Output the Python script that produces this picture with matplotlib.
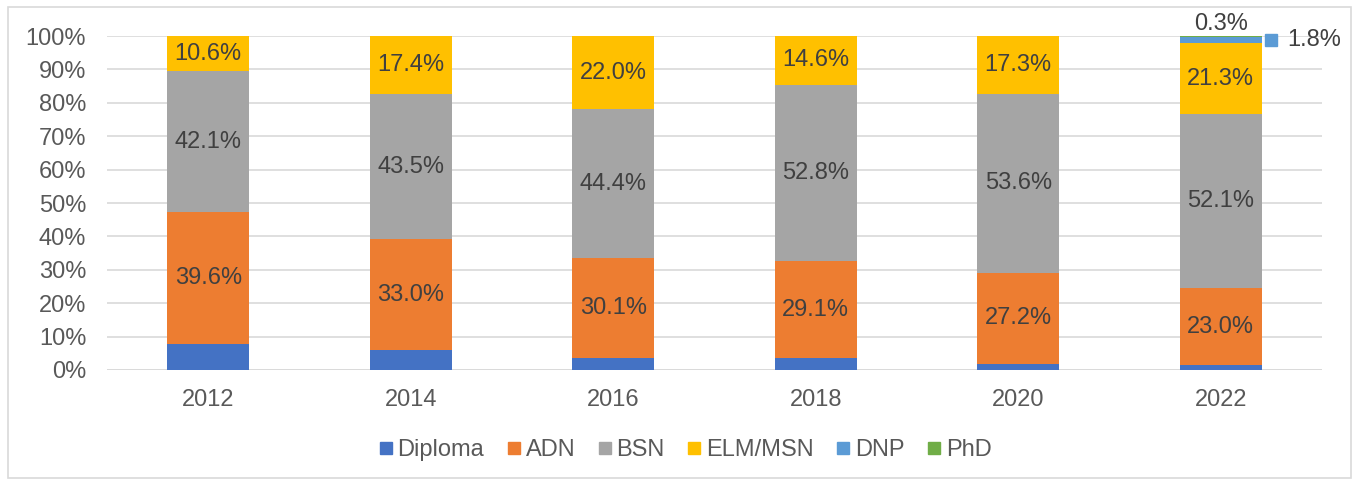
import numpy as np
import matplotlib.pyplot as plt
from matplotlib.patches import Rectangle

plt.rcParams['font.family'] = ['Liberation Sans', 'DejaVu Sans']

years = ['2012', '2014', '2016', '2018', '2020', '2022']
diploma = [7.7, 6.1, 3.5, 3.5, 1.9, 1.5]
adn = [39.6, 33.0, 30.1, 29.1, 27.2, 23.0]
bsn = [42.1, 43.5, 44.4, 52.8, 53.6, 52.1]
elm_msn = [10.6, 17.4, 22.0, 14.6, 17.3, 21.3]
dnp = [0, 0, 0, 0, 0, 1.8]
phd = [0, 0, 0, 0, 0, 0.3]

series = [('Diploma', diploma, '#4472c4'),
          ('ADN', adn, '#ed7d31'),
          ('BSN', bsn, '#a5a5a5'),
          ('ELM/MSN', elm_msn, '#ffc000'),
          ('DNP', dnp, '#5b9bd5'),
          ('PhD', phd, '#70ad47')]

fs = 17

fig = plt.figure(figsize=(13.53, 4.8), dpi=100)
ax = fig.add_axes([107 / 1353, 1 - 370 / 480, 1215 / 1353, 334 / 480])

x = np.arange(len(years))
bottom = np.zeros(len(years))
for name, vals, col in series:
    vals = np.array(vals)
    ax.bar(x, vals, 0.405, bottom=bottom, color=col, label=name, zorder=2)
    if name in ('ADN', 'BSN', 'ELM/MSN'):
        for xi, b, v in zip(x, bottom, vals):
            ax.text(xi, b + v / 2, f'{v:.1f}%', ha='center', va='center',
                    fontsize=fs, color='#404040', zorder=3)
    bottom += vals

# labels for the thin 2022 segments
ax.text(x[-1], 100.4, f'{phd[-1]:.1f}%', ha='center', va='bottom',
        fontsize=fs, color='#404040')
ax.plot([x[-1] + 0.25], [98.9], marker='s', markersize=9, color='#5b9bd5',
        clip_on=False, linestyle='none')
ax.text(x[-1] + 0.33, 98.9, f'{dnp[-1]:.1f}%', ha='left', va='center',
        fontsize=fs, color='#404040')

ax.set_xlim(-0.5, len(years) - 0.5)
ax.set_ylim(0, 100)
ax.set_yticks(np.arange(0, 101, 10))
ax.set_yticklabels([f'{v}%' for v in range(0, 101, 10)])
ax.set_xticks(x)
ax.set_xticklabels(years)
ax.tick_params(length=0, labelsize=fs, colors='#595959')
ax.tick_params(axis='y', pad=15)
ax.tick_params(axis='x', pad=14)
ax.yaxis.grid(True, color='#d9d9d9', linewidth=1.2, zorder=0)
for s in ax.spines.values():
    s.set_visible(False)
ax.axhline(0, color='#d9d9d9', linewidth=1.2, zorder=1)

handles = [plt.Line2D([], [], marker='s', linestyle='none', markersize=9,
                      color=col) for _, _, col in series]
fig.legend(handles, [n for n, _, _ in series], loc='center',
           bbox_to_anchor=(685 / 1353, 1 - 450 / 480), ncol=6, frameon=False,
           fontsize=fs, labelcolor='#595959', handletextpad=0.2,
           columnspacing=0.95, handlelength=0.6)

fig.patches.append(Rectangle((8 / 1353, 2 / 480), 1343 / 1353, 471 / 480,
                             transform=fig.transFigure, fill=False,
                             edgecolor='#d9d9d9', linewidth=1.2))

fig.savefig('out.png', dpi=100)
